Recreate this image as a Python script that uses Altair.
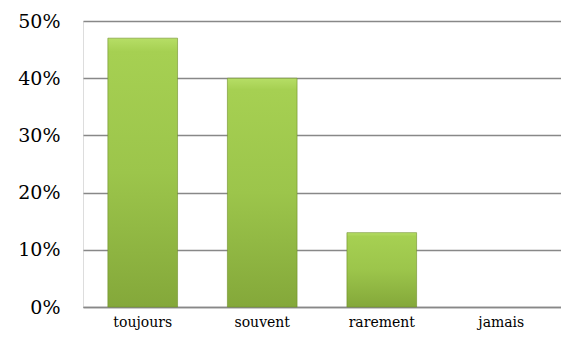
import altair as alt
import pandas as pd

categories = ["toujours", "souvent", "rarement", "jamais"]
values = [0.47, 0.40, 0.13, 0.0]

df = pd.DataFrame({"cat": categories, "val": values})

grad = alt.Gradient(
    gradient="linear",
    x1=0, x2=0, y1=0, y2=1,
    stops=[
        alt.GradientStop(color="#b6de66", offset=0),
        alt.GradientStop(color="#a6d052", offset=0.05),
        alt.GradientStop(color="#9cc54b", offset=0.5),
        alt.GradientStop(color="#84a83a", offset=1),
    ],
)

SERIF = "DejaVu Serif"

chart = (
    alt.Chart(df)
    .mark_bar(color=grad, stroke="#6f8f2a", strokeWidth=1)
    .encode(
        x=alt.X(
            "cat:N",
            sort=categories,
            title=None,
            scale=alt.Scale(paddingInner=0.417, paddingOuter=0.208),
            axis=alt.Axis(
                labelAngle=0,
                labelFontSize=14,
                labelColor="#000000",
                labelPadding=8,
                ticks=False,
                grid=False,
                domainColor="#888888",
                domainWidth=1.5,
            ),
        ),
        y=alt.Y(
            "val:Q",
            title=None,
            scale=alt.Scale(domain=[0, 0.5]),
            axis=alt.Axis(
                format=".0%",
                values=[0, 0.1, 0.2, 0.3, 0.4, 0.5],
                labelFontSize=19,
                labelColor="#000000",
                labelPadding=23,
                ticks=False,
                domain=False,
                gridColor="#888888",
                gridWidth=1.5,
            ),
        ),
        strokeOpacity=alt.condition("datum.val > 0", alt.value(0.6), alt.value(0)),
    )
    .properties(
        width=478,
        height=286,
        autosize=alt.AutoSizeParams(type="none"),
        padding={"left": 75, "top": 13, "right": 0, "bottom": 34},
    )
    .configure_view(strokeWidth=0)
    .configure_axis(labelFont=SERIF)
    .configure(background="white", font=SERIF)
)

chart.save("out.html", embed_options={"renderer": "svg", "actions": False})
